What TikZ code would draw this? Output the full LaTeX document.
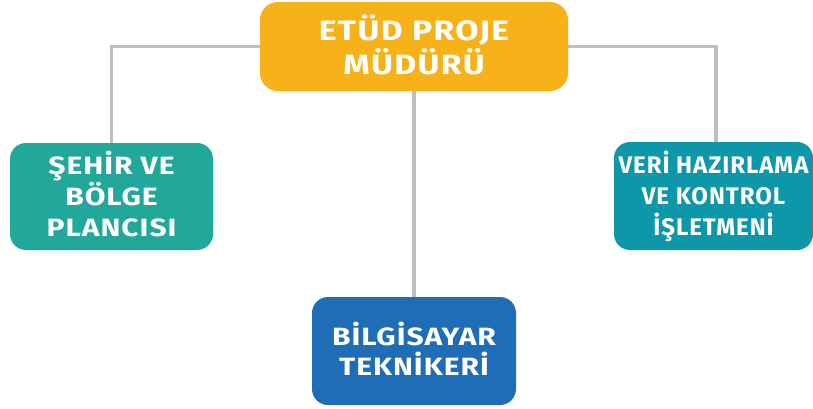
\documentclass[tikz,border=0pt]{standalone}
\usepackage{fontspec}
\setmainfont{Fira Sans}
\newfontfamily\topfont[FakeStretch=1.2,LetterSpace=5]{Fira Sans}
\newfontfamily\boxfont[FakeStretch=1.2,LetterSpace=4]{Fira Sans}
\newfontfamily\condfont[LetterSpace=4]{Fira Sans}
\newcommand\dpfix{\rule[-4.6pt]{0pt}{0pt}}
\usetikzlibrary{backgrounds}
\definecolor{cTop}{HTML}{F7B21A}
\definecolor{cLeft}{HTML}{22A89A}
\definecolor{cRight}{HTML}{0D97A8}
\definecolor{cBot}{HTML}{1F6DB6}
\definecolor{cLine}{HTML}{BFBFBF}
\begin{document}
\begin{tikzpicture}[x=1pt,y=-1pt,
  box/.style={rounded corners=16pt, text=white, align=center, inner sep=0pt},
  conn/.style={draw=cLine, line width=3.5pt}]
\useasboundingbox (0,0) rectangle (813,409);
\node[box, fill=cTop, rounded corners=18pt, font=\topfont\bfseries\fontsize{28}{34}\selectfont, minimum width=308pt, minimum height=89pt] (top) at (414,46.5) {ETÜD PROJE\\MÜDÜRÜ\dpfix};
\node[box, fill=cLeft, font=\boxfont\bfseries\fontsize{25}{31}\selectfont, minimum width=203pt, minimum height=107pt] (left) at (111.5,196.5) {ŞEHİR VE\\BÖLGE\\PLANCISI\dpfix};
\node[box, fill=cRight, font=\condfont\bfseries\fontsize{24}{31}\selectfont, minimum width=199pt, minimum height=108pt] (right) at (713.5,196) {VERİ HAZIRLAMA\\VE KONTROL\\İŞLETMENİ};
\node[box, fill=cBot, font=\boxfont\bfseries\fontsize{25}{30}\selectfont, minimum width=204pt, minimum height=108pt] (bot) at (414,351) {BİLGİSAYAR\\TEKNİKERİ\dpfix};
\coordinate (rtop) at ([xshift=2.5pt]right.north);
\begin{scope}[on background layer]
\draw[conn] (top.west) -| (left.north);
\draw[conn] (top.east) -| (rtop);
\draw[conn] (top.south) -- (bot.north);
\end{scope}
\end{tikzpicture}
\end{document}
